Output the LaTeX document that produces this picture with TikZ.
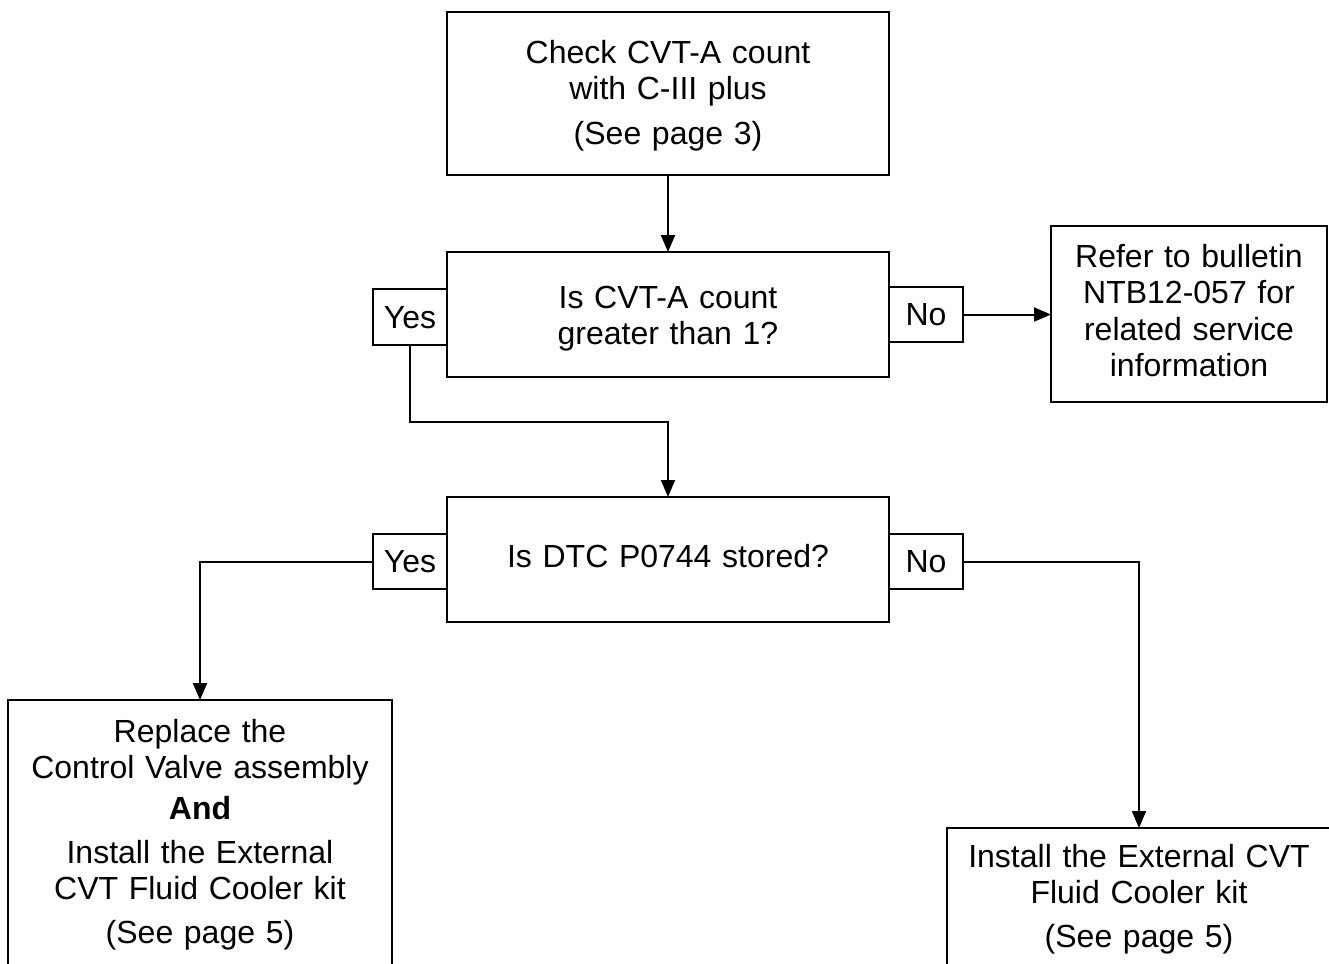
\documentclass[tikz,border=0pt]{standalone}
\usepackage{fontspec}
\setmainfont{Liberation Sans}
\usetikzlibrary{arrows.meta}
\begin{document}
\begin{tikzpicture}[x=0.5pt,y=-0.5pt,
  box/.style={draw, line width=1pt, inner xsep=0pt, inner ysep=0pt, outer sep=0pt,
    align=center, anchor=north, font=\fontsize{16}{18.25}\selectfont},
  arr/.style={draw, line width=1pt, -{Triangle[length=8.5pt,width=7pt]}}]
\useasboundingbox (0,0) rectangle (1329,964);
\clip (0,0) rectangle (1329,964);
% main boxes
\node[box, text width=221pt, text height=25.5pt, text depth=56pt] (check) at (668,12)
  {Check CVT-A count\\with C-III plus\\[4.25pt](See page 3)};
\node[box, text width=221pt, text height=28pt, text depth=34.5pt] (q1) at (668,252)
  {Is CVT-A count\\greater than 1?};
\node[box, text width=138pt, text height=20.5pt, text depth=67.5pt] (refer) at (1189,226)
  {Refer to bulletin\\NTB12-057 for\\related service\\information};
\node[box, text width=221pt, text height=35pt, text depth=27.5pt] (q2) at (668,497)
  {Is DTC P0744 stored?};
\node[box, text width=192pt, text height=21pt, text depth=150pt] (replace) at (200,700)
  {Replace the\\Control Valve assembly\\[2pt]\textbf{And}\\[3.75pt]Install the External\\CVT Fluid Cooler kit\\[3.5pt](See page 5)};
\node[box, text width=192pt, text height=19.5pt, text depth=100pt] (install) at (1139,828)
  {Install the External CVT\\Fluid Cooler kit\\[3.5pt](See page 5)};
% label boxes
\node[box, text width=37pt, text height=19.5pt, text depth=8.5pt] (yes1) at (410,289) {Yes};
\node[box, text width=37pt, text height=19pt, text depth=8.5pt] (no1) at (926,287) {No};
\node[box, text width=37pt, text height=19pt, text depth=8.5pt] (yes2) at (410,534) {Yes};
\node[box, text width=37pt, text height=19pt, text depth=8.5pt] (no2) at (926,534) {No};
% connectors
\coordinate (j1) at (410,422);
\draw[arr] (check.south) -- (check.south |- q1.north);
\draw[arr] (no1.east) -- (no1.east -| refer.west);
\draw[arr] (yes1.south) -- (j1) -| (q2.north);
\draw[arr] (yes2.west) -| (replace.north);
\draw[arr] (no2.east) -| (install.north);
\end{tikzpicture}
\end{document}
